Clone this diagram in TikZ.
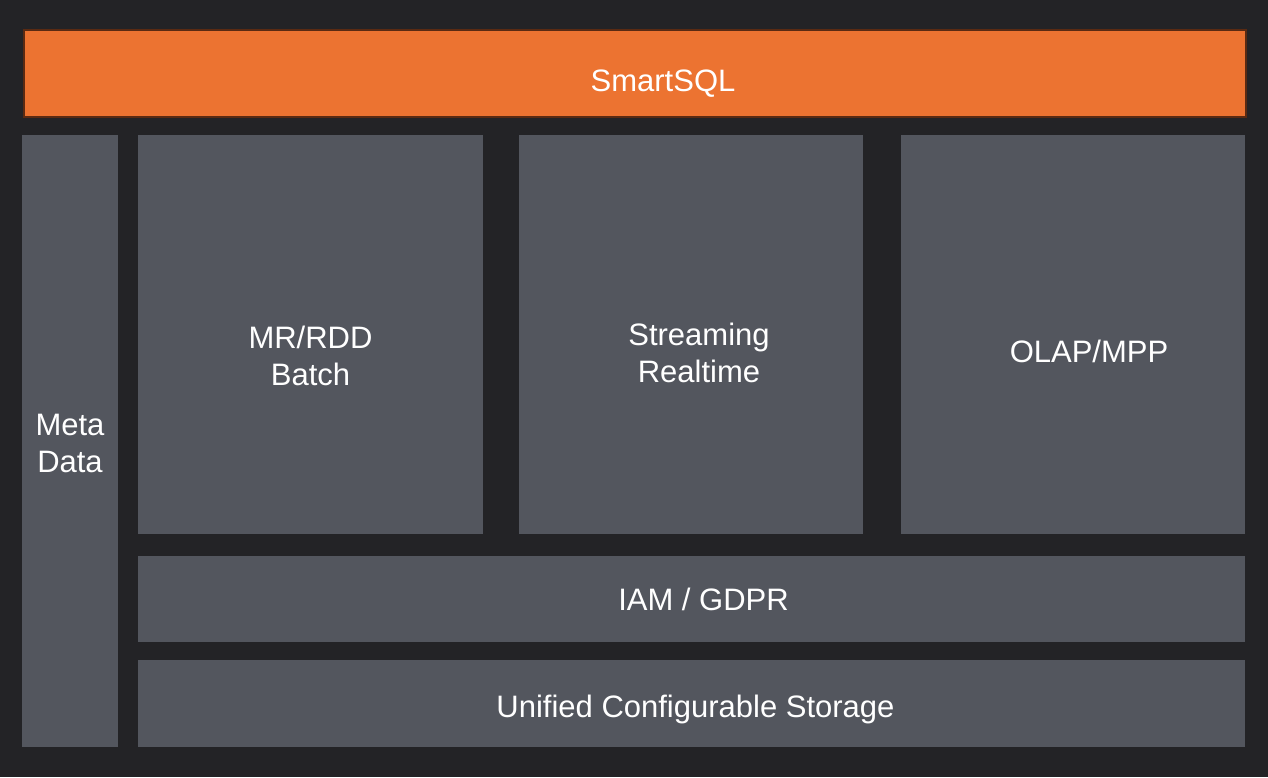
\documentclass[tikz,border=0pt]{standalone}
\usepackage{fontspec}
\setmainfont{Liberation Sans}
\usetikzlibrary{positioning}
\definecolor{bg}{HTML}{232326}
\definecolor{sqlorange}{HTML}{EC7331}
\definecolor{rust}{HTML}{5A2A12}
\definecolor{slate}{HTML}{53565E}
\begin{document}
\begin{tikzpicture}[x=0.5pt,y=-0.5pt,
    layer/.style={fill=slate,inner sep=0pt,outer sep=0pt},
    txt/.style={text=white,font=\fontsize{15.5}{18.5}\selectfont,align=center}
  ]
    \fill[bg] (0,0) rectangle (1268,777);
    \useasboundingbox (0,0) rectangle (1268,777);
    \node[layer,fill=sqlorange,draw=rust,line width=0.6pt,anchor=north west,
          minimum width=611pt,minimum height=43.5pt] (sql) at (24,30) {};
    \node[layer,anchor=north west,minimum width=48pt,minimum height=306pt]
          (meta) at (22,135) {};
    \node[layer,anchor=north west,minimum width=172.5pt,minimum height=199.5pt]
          (mr) at (138,135) {};
    \node[layer,right=18pt of mr,minimum width=172pt,minimum height=199.5pt] (stream) {};
    \node[layer,right=19pt of stream,minimum width=172pt,minimum height=199.5pt] (olap) {};
    \node[layer,below right=11pt and 0pt of mr.south west,minimum width=553.5pt,
          minimum height=43pt] (iam) {};
    \node[layer,below=9pt of iam,minimum width=553.5pt,minimum height=43.5pt] (store) {};
    % labels
    \node[txt] (sqllbl) at ([xshift=14pt,yshift=-5pt]sql.center) {SmartSQL};
    \node[txt] (metalbl) at ([yshift=-1pt]meta.center) {Meta\\Data};
    \node[txt] (mrlbl) at ([yshift=-10.5pt]mr.center) {MR/RDD\\Batch};
    \node[txt] (streamlbl) at ([xshift=4pt,yshift=-9pt]stream.center) {Streaming\\Realtime};
    \node[txt] (olaplbl) at ([xshift=8pt,yshift=-8.5pt]olap.center) {OLAP/MPP};
    \node[txt] (iamlbl) at ([xshift=6pt]iam.center) {IAM / GDPR};
    \node[txt] (storelbl) at ([xshift=2pt,yshift=-3pt]store.center) {Unified Configurable Storage};
  \end{tikzpicture}
\end{document}
